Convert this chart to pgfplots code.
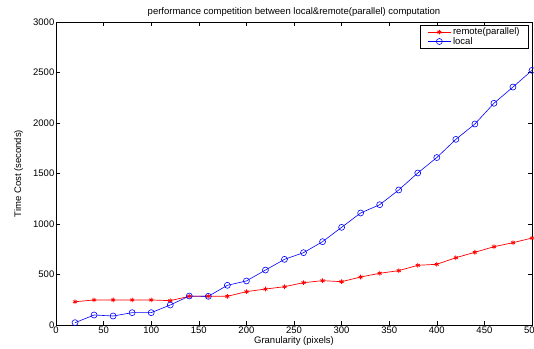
\documentclass[border=0pt]{standalone}
\usepackage{fontspec}
\setmainfont{Liberation Sans}
\usepackage{pgfplots}
\pgfplotsset{compat=1.18}
\begin{document}
\begin{tikzpicture}
\begin{axis}[
  name=ax,
  scale only axis,
  width=476pt, height=303pt,
  xmin=0, xmax=500, ymin=0, ymax=3000,
  xtick={0,50,...,500}, ytick={0,500,...,3000},
  tick align=inside, tick pos=both,
  major tick length=4pt,
  axis line style={line width=0.8pt},
  every tick/.style={black, line width=0.5pt},
  /pgf/number format/assume math mode=true,
  /pgf/number format/1000 sep={},
  tick label style={font=\fontsize{9.5}{10}\selectfont, inner sep=1.5pt},
  xticklabel style={yshift=0pt},
  title={performance competition between local\&remote(parallel) computation},
  title style={font=\fontsize{9.5}{10}\selectfont, yshift=-4pt},
  xlabel={Granularity (pixels)},
  ylabel={Time Cost (seconds)},
  xlabel style={font=\fontsize{9.5}{10}\selectfont, yshift=2pt},
  ylabel style={font=\fontsize{9.5}{10}\selectfont, yshift=5pt},
  legend style={at={(0.9937,0.99)}, anchor=north east, draw=black, line width=0.8pt,
    font=\fontsize{9.5}{9.5}\selectfont, inner xsep=7pt, inner ysep=0.5pt, row sep=-3pt,
    cells={anchor=west}},
  legend cell align=left,
  legend image code/.code={
    \draw[mark repeat=2,mark phase=2,#1] plot coordinates {(0cm,0cm) (0.4cm,0cm) (0.8cm,0cm)};},
]
\addplot[color=red, line width=0.7pt, mark=asterisk, mark size=2.3pt, mark options={line width=0.8pt}]
coordinates {
(20,230) (40,248) (60,248) (80,248) (100,248) (120,241) (140,284) (160,284) (180,284) (200,330)
(220,356) (240,379) (260,419) (280,439) (300,429) (320,475) (340,512) (360,538) (380,591) (400,601)
(420,666) (440,720) (460,775) (480,815) (500,861)
};
\addlegendentry{remote(parallel)}
\addplot[color=blue, line width=0.6pt, mark=o, mark size=3pt, mark options={line width=0.6pt}]
coordinates {
(20,23) (40,99) (60,89) (80,122) (100,122) (120,198) (140,287) (160,284) (180,393) (200,436)
(220,544) (240,650) (260,716) (280,825) (300,967) (320,1109) (340,1191) (360,1337) (380,1505) (400,1658)
(420,1838) (440,1990) (460,2195) (480,2356) (500,2521)
};
\addlegendentry{local}
\end{axis}
\pgfresetboundingbox
\path[use as bounding box] ([shift={(-56pt,-24pt)}]ax.south west) rectangle ([shift={(2pt,22pt)}]ax.north east);
\end{tikzpicture}
\end{document}
